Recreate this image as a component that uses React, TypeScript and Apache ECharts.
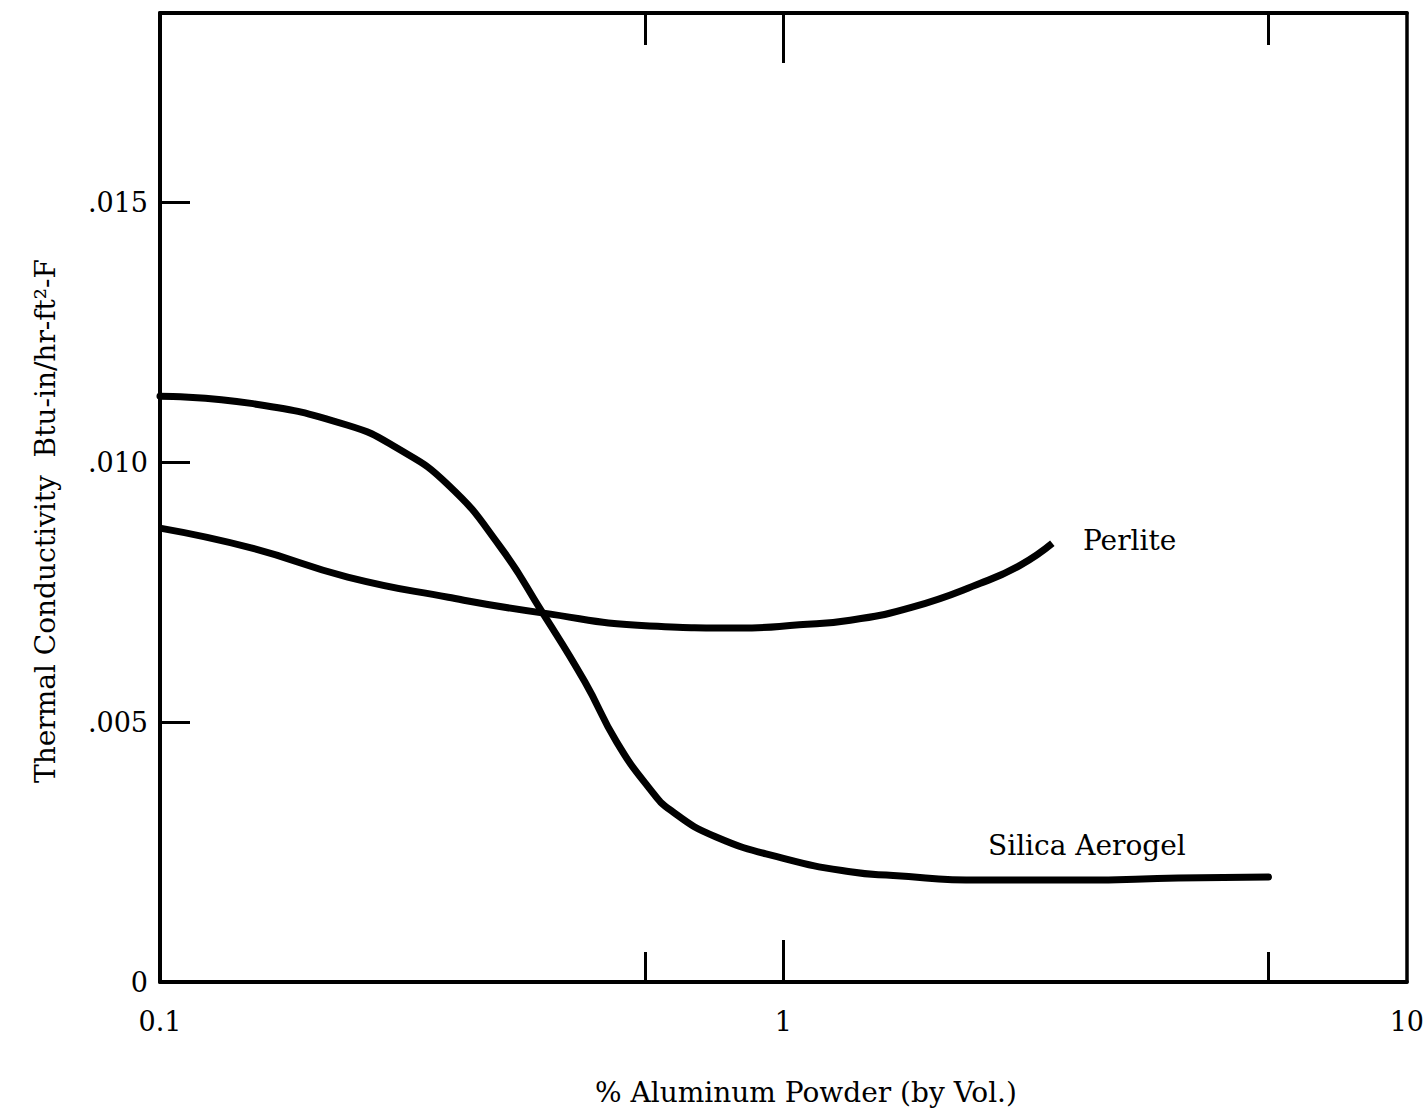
import React, { useEffect, useRef } from "react";
import * as echarts from "echarts";

// % aluminum powder (by volume) and thermal conductivity, Btu-in/hr-ft²-F
const silicaX = [0.1, 0.14, 0.2, 0.24, 0.29, 0.35, 0.41, 0.48, 0.54, 0.61, 0.66, 0.78, 1.0, 1.28, 1.5, 2.07, 3.0, 4.3, 6.0];
const silicaY = [0.01127, 0.01113, 0.01071, 0.01027, 0.00956, 0.0084, 0.00712, 0.00578, 0.00462, 0.00372, 0.00330, 0.00279, 0.00238, 0.00212, 0.00205, 0.00196, 0.00196, 0.002, 0.00202];

const perliteX = [0.1, 0.14, 0.2, 0.29, 0.41, 0.61, 0.85, 1.06, 1.28, 1.61, 2.07, 2.4, 2.7];
const perliteY = [0.00873, 0.00835, 0.00779, 0.0074, 0.0071, 0.00685, 0.00681, 0.00687, 0.00696, 0.00721, 0.00767, 0.00802, 0.00844];

const xLabelValues = [0.1, 1, 10];
const xMinorTicks = [0.6, 6];
const xMajorTick = [1];
const yTickValues = [0.005, 0.01, 0.015];
const yLabelValues = [0, 0.005, 0.01, 0.015];

const FONT = "DejaVu Serif";
const INK = "#000";

const pair = (xs: number[], ys: number[]) => xs.map((x, i) => [x, ys[i]]);

const fmtX = (v: number) => String(+Number(v).toPrecision(3));
const fmtY = (v: number) => (v === 0 ? "0" : "." + Math.round(v * 1000).toString().padStart(3, "0"));

export default function App() {
  const ref = useRef<HTMLDivElement>(null);

  useEffect(() => {
    if (!ref.current) return;
    const chart = echarts.init(ref.current, undefined, { renderer: "svg" });

    const logAxisBase = {
      type: "log" as const,
      logBase: 10,
      min: 0.1,
      max: 10,
      splitLine: { show: false },
      minorTick: { show: false },
    };

    chart.setOption({
      animation: false,
      backgroundColor: "#fff",
      grid: { left: 160, right: 20, top: 13, bottom: 127, containLabel: false },
      xAxis: [
        {
          ...logAxisBase,
          position: "bottom",
          axisLine: { show: true, lineStyle: { color: INK, width: 4 } },
          axisTick: { show: true, inside: true, length: 30, customValues: xMinorTicks, lineStyle: { color: INK, width: 3 } },
          axisLabel: {
            show: true,
            customValues: xLabelValues,
            formatter: fmtX,
            margin: 26,
            color: INK,
            fontFamily: FONT,
            fontSize: 27,
          },
        },
        {
          ...logAxisBase,
          position: "bottom",
          axisLine: { show: false },
          axisTick: { show: true, inside: true, length: 42, customValues: xMajorTick, lineStyle: { color: INK, width: 3 } },
          axisLabel: { show: false },
        },
        {
          ...logAxisBase,
          position: "top",
          axisLine: { show: true, lineStyle: { color: INK, width: 4 } },
          axisTick: { show: true, inside: true, length: 32, customValues: xMinorTicks, lineStyle: { color: INK, width: 3 } },
          axisLabel: { show: false },
        },
        {
          ...logAxisBase,
          position: "top",
          axisLine: { show: false },
          axisTick: { show: true, inside: true, length: 50, customValues: xMajorTick, lineStyle: { color: INK, width: 3 } },
          axisLabel: { show: false },
        },
      ],
      yAxis: [
        {
          type: "value",
          position: "left",
          min: 0,
          max: 0.01864,
          splitLine: { show: false },
          axisLine: { show: true, lineStyle: { color: INK, width: 4 } },
          axisTick: { show: true, inside: true, length: 30, customValues: yTickValues, lineStyle: { color: INK, width: 3 } },
          axisLabel: {
            show: true,
            customValues: yLabelValues,
            formatter: fmtY,
            margin: 12,
            color: INK,
            fontFamily: FONT,
            fontSize: 27,
          },
        },
        {
          type: "value",
          position: "right",
          min: 0,
          max: 0.01864,
          splitLine: { show: false },
          axisLine: { show: true, lineStyle: { color: INK, width: 3.5 } },
          axisTick: { show: false },
          axisLabel: { show: false },
        },
      ],
      series: [
        {
          name: "Silica Aerogel",
          type: "line",
          xAxisIndex: 0,
          yAxisIndex: 0,
          data: pair(silicaX, silicaY),
          smooth: 0.5,
          showSymbol: false,
          lineStyle: { color: INK, width: 7, cap: "round", join: "round" },
        },
        {
          name: "Perlite",
          type: "line",
          xAxisIndex: 0,
          yAxisIndex: 0,
          data: pair(perliteX, perliteY),
          smooth: 0.5,
          showSymbol: false,
          lineStyle: { color: INK, width: 7, cap: "butt", join: "round" },
        },
      ],
      graphic: [
        {
          type: "text",
          left: 1083,
          top: 526,
          style: { text: "Perlite", fill: INK, font: `28px "${FONT}"` },
        },
        {
          type: "text",
          left: 988,
          top: 831,
          style: { text: "Silica Aerogel", fill: INK, font: `28px "${FONT}"` },
        },
        {
          type: "text",
          x: 806,
          y: 1092,
          style: {
            text: "% Aluminum Powder (by Vol.)",
            fill: INK,
            font: `28px "${FONT}"`,
            align: "center",
            verticalAlign: "middle",
          },
        },
        {
          type: "text",
          x: 45,
          y: 521,
          rotation: Math.PI / 2,
          style: {
            text: "Thermal Conductivity  Btu-in/hr-ft²-F",
            fill: INK,
            font: `28px "${FONT}"`,
            align: "center",
            verticalAlign: "middle",
          },
        },
      ],
    });

    return () => chart.dispose();
  }, []);

  return (
    <div
      ref={ref}
      style={{ position: "absolute", left: 0, top: 0, width: 1427, height: 1109, background: "#fff" }}
    />
  );
}
